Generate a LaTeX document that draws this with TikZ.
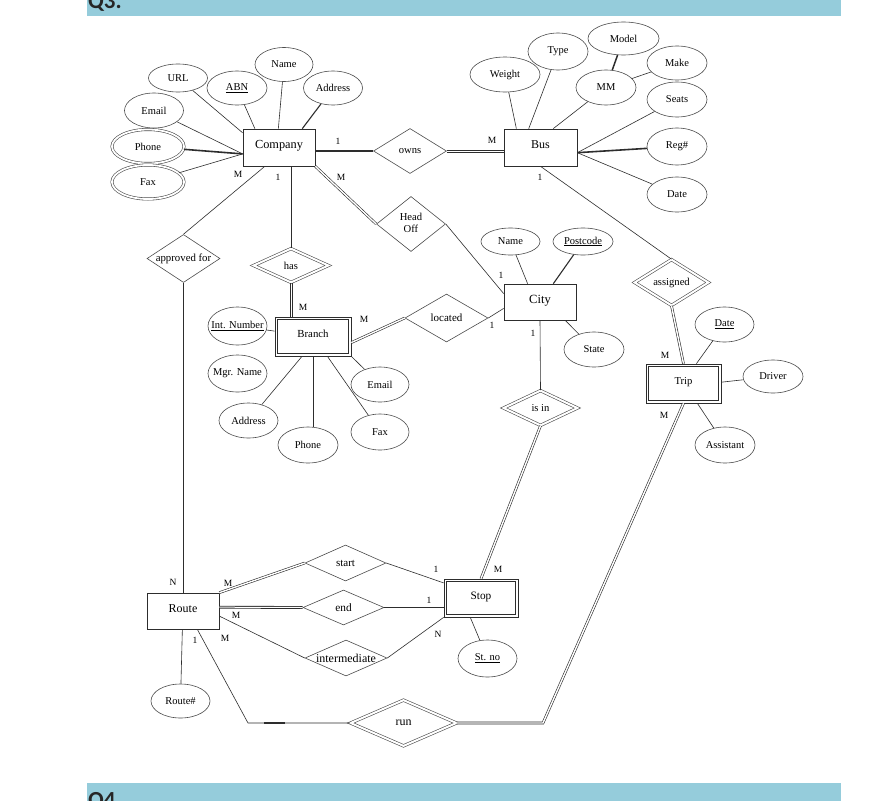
\documentclass[tikz,border=0pt]{standalone}
\usepackage{fontspec}
\setmainfont{Liberation Serif}
\newfontfamily\qfont{Carlito}
\usetikzlibrary{shapes.geometric}
\definecolor{qbar}{RGB}{149,204,219}
\definecolor{ln}{RGB}{45,45,45}
\newcommand\zb[1]{\makebox[0pt]{#1}}
\newcommand\fs[1]{\fontsize{#1}{#1}\selectfont}
\begin{document}
\begin{tikzpicture}[x=1pt,y=-1pt,
  sz/.style 2 args={minimum width=#1pt,minimum height=#2pt},
  ent/.style={draw=ln,line width=0.7pt,rectangle,inner sep=0pt,text height=6pt,text depth=4pt},
  went/.style={ent},
  attr/.style={draw=black!70,line width=0.6pt,ellipse,inner sep=0pt,font=\fs{10.5}},
  mattr/.style={attr,double,double distance=1.8pt},
  rel/.style={draw=black!70,line width=0.6pt,diamond,inner sep=0pt,font=\fs{10.6}},
  wrel/.style={rel,double,double distance=2pt},
  lab/.style={inner sep=0pt,font=\fs{9.5}},
  conn/.style={draw=ln,line width=0.6pt},
  thk/.style={draw=ln,line width=1.6pt},
  dbl/.style={draw=ln,line width=0.6pt,double,double distance=1.4pt},
]
\useasboundingbox (0,0) rectangle (874,800);
\clip (0,0) rectangle (874,800);
\fill[white] (0,0) rectangle (874,800);
% header bars
\fill[qbar] (87,-5) rectangle (841,16);
\fill[qbar] (87,783) rectangle (841,805);
\node[anchor=base west,inner sep=0pt,font=\qfont\bfseries\fs{23},text=black!85] (q3) at (88,8.5) {Q3.};
\node[anchor=base west,inner sep=0pt,font=\qfont\bfseries\fs{23},text=black!85] (q4) at (88,807) {Q4};

% entities
\node[ent,sz={72}{37},font=\fs{12.3}] (company) at (279,147.5) {Company};
\node[ent,sz={73}{37},font=\fs{12}] (bus) at (540.5,147.5) {Bus};
\node[ent,sz={72}{36},font=\fs{12.5}] (city) at (540,302) {City};
\node[went,sz={76}{39},font=\fs{10.8}] (branch) at (313,336.5) {Branch};
\node[went,sz={75}{39},font=\fs{10.6}] (trip) at (683.5,383.5) {Trip};
\node[went,sz={74}{38},font=\fs{11.3}] (stop) at (481,598) {Stop};
\node[ent,sz={72}{36},font=\fs{12}] (route) at (183,611) {Route};
% inner borders of the weak entities
\draw[conn] ([shift={(2.8,2.8)}]branch.north west) rectangle ([shift={(-2.8,-2.8)}]branch.south east);
\draw[conn] ([shift={(2.8,2.8)}]trip.north west) rectangle ([shift={(-2.8,-2.8)}]trip.south east);
\draw[conn] ([shift={(2.8,2.8)}]stop.north west) rectangle ([shift={(-2.8,-2.8)}]stop.south east);

% company attributes
\node[attr,sz={59}{28}] (url) at (178,78) {\zb{URL}};
\node[attr,sz={60}{34}] (abn) at (237,88) {\zb{\underline{ABN}}};
\node[attr,sz={58}{34}] (cname) at (284,64.5) {\zb{Name}};
\node[attr,sz={59}{34}] (caddr) at (333,88) {\zb{Address}};
\node[attr,sz={59}{35}] (cemail) at (154,110.5) {\zb{Email}};
\node[mattr,sz={72}{34}] (cphone) at (148,146.5) {\zb{Phone}};
\node[mattr,sz={72}{34}] (cfax) at (148,182) {\zb{Fax}};

% bus attributes
\node[attr,sz={70}{35}] (weight) at (505,74.5) {\zb{Weight}};
\node[attr,sz={60}{37}] (type) at (558,51.5) {\zb{Type}};
\node[attr,sz={71}{33}] (model) at (623.5,38.5) {\zb{Model}};
\node[attr,sz={60}{35}] (mm) at (606,87.5) {\zb{MM}};
\node[attr,sz={60}{34}] (make) at (677,63) {\zb{Make}};
\node[attr,sz={60}{35}] (seats) at (677,99.5) {\zb{Seats}};
\node[attr,sz={60}{37}] (reg) at (677,146.5) {\zb{Reg\#}};
\node[attr,sz={60}{35}] (bdate) at (677,194.5) {\zb{Date}};

% city attributes
\node[attr,sz={59}{27}] (cityname) at (510.5,241.5) {\zb{Name}};
\node[attr,sz={60}{27}] (postcode) at (583,241.5) {\zb{\underline{Postcode}}};
\node[attr,sz={60}{35}] (state) at (594,349.5) {\zb{State}};

% branch attributes
\node[attr,sz={59}{38}] (intnum) at (237.5,326) {\zb{\underline{Int. Number}}};
\node[attr,sz={59}{37}] (mgr) at (237.5,373.5) {\zb{Mgr. Name}};
\node[attr,sz={59}{35}] (baddr) at (248.5,420.5) {\zb{Address}};
\node[attr,sz={60}{36}] (bphone) at (308,445) {\zb{Phone}};
\node[attr,sz={58}{36}] (bfax) at (380,432) {\zb{Fax}};
\node[attr,sz={58}{35}] (bemail) at (380,384.5) {\zb{Email}};

% trip attributes
\node[attr,sz={59}{35}] (tdate) at (724.5,324.5) {\zb{\underline{Date}}};
\node[attr,sz={60}{33}] (driver) at (773,376.5) {\zb{Driver}};
\node[attr,sz={60}{36}] (assistant) at (725,445) {\zb{Assistant}};

% stop / route attributes
\node[attr,sz={59}{37}] (stno) at (487.5,658.5) {\zb{\underline{St. no}}};
\node[attr,sz={59}{34}] (routeno) at (180.5,701) {\zb{Route\#}};

% relationships
\node[rel,sz={73}{45}] (owns) at (410,151) {\zb{owns}};
\node[rel,sz={69}{55}] (headoff) at (411,224) {\zb{\fontsize{10.6}{11.7}\selectfont\begin{tabular}{@{}c@{}}Head\\Off\end{tabular}}};
\node[rel,sz={73}{48},font=\fs{10.8}] (approved) at (183.5,258.5) {\zb{approved for}};
\node[wrel,sz={75}{34}] (has) at (291,265.5) {\zb{has}};
\node[rel,sz={83}{48},font=\fs{11}] (located) at (446.5,318) {\zb{located}};
\node[wrel,sz={74}{35}] (isin) at (540.5,408) {\zb{is in}};
\node[wrel,sz={74}{46}] (assigned) at (671.5,282.5) {\zb{assigned}};
\node[rel,sz={81}{36},font=\fs{11}] (start) at (345.5,563) {\zb{start}};
\node[rel,sz={81}{35},font=\fs{11.3}] (end) at (343.5,607.5) {\zb{end}};
\node[rel,sz={82}{36},font=\fs{12}] (inter) at (346,658) {\zb{intermediate}};
\node[wrel,sz={106}{46},font=\fs{12}] (run) at (403.5,723) {\zb{run}};

% company attribute lines
\draw[conn] (url) -- (company.158);
\draw[conn] (abn) -- (company.142);
\draw[conn] (cname) -- (company.92);
\draw[conn,line width=1.1pt] (caddr) -- (company.39);
\draw[conn] (cemail) -- (company.190);
\draw[thk] (cphone) -- (company.190);
\draw[conn] (cfax) -- (company.190);

% bus attribute lines
\draw[conn] (weight) -- (bus.142);
\draw[conn] (type) -- (bus.122);
\draw[conn] (mm) -- (bus.56);
\draw[thk,line width=1.5pt] (mm) -- (model);
\draw[conn] (make) -- (mm);
\draw[conn] (seats) -- (bus.-8);
\draw[thk] (reg) -- (bus.-8);
\draw[conn] (bdate) -- (bus.-8);

% city attribute lines
\draw[conn] (cityname) -- (city.124);
\draw[conn,line width=1.1pt] (postcode) -- (city.54);
\draw[conn] (state) -- (city.-36);

% branch attribute lines
\draw[conn] (intnum) -- (branch.172);
\draw[conn] (baddr) -- (branch.-119);
\draw[conn] (branch.south) -- (branch.south |- bphone.north);
\draw[conn] (bfax) -- (branch.-54);
\draw[conn] (bemail) -- (branch.south east);

% trip attribute lines
\draw[conn] (tdate) -- (trip.57);
\draw[conn] (driver) -- (trip.2);
\draw[conn] (assistant) -- (trip.-55);

% stop / route attribute lines
\draw[conn] (stno) -- (stop.-119);
\draw[conn] (route.-92) -- (routeno);

% relationship lines
\draw[thk] (company.east |- owns.west) -- (owns.west);
\draw[conn] ([yshift=1.1pt]owns.east) -- ([yshift=1.1pt]bus.west |- owns.east);
\draw[conn] ([yshift=-1.1pt]owns.east) -- ([yshift=-1.1pt]bus.west |- owns.east);
\draw[dbl] (company.south east) -- (headoff.west);
\draw[conn] (headoff.east) -- (city.167);
\draw[conn] (has.north |- company.south) -- (has.north);
\draw[conn] ([xshift=-1.1pt]has.south) -- ([xshift=-1.1pt]has.south |- branch.north);
\draw[conn] ([xshift=1.1pt]has.south) -- ([xshift=1.1pt]has.south |- branch.north);
\draw[conn] (company.-127) -- (approved.north);
\draw[conn] (approved.south) -- (approved.south |- route.north);
\draw[dbl] (branch.-9) -- (located.west);
\draw[conn] (located.east) -- (city.190);
\draw[conn] (city.south) -- (isin.north);
\draw[dbl] (isin.south) -- (stop.north);
\draw[conn] (bus.south) -- (assigned.north);
\draw[dbl] (assigned.south) -- (trip.north);
\coordinate (tripcorner) at (543,723);
\draw[dbl] (trip.south) -- (tripcorner) -- (run.east);
\draw[dbl] (route.north east) -- (start.west);
\draw[conn] (start.east) -- (stop.158);
\draw[dbl,line width=0.9pt,double distance=1pt] (route.6) -- (end.west);
\draw[conn] (end.east) -- (stop.west |- end.east);
\draw[conn] (route.-8) -- (inter.west);
\draw[conn] (inter.east) -- (stop.south west);
\coordinate (runcorner) at (248,723);
\draw[conn] (route.-52) -- (runcorner) -- (run.west);
\coordinate (tk1) at (264,723);
\coordinate (tk2) at (285,723);
\draw[thk,line width=2pt] (tk1) -- (tk2);

% cardinality labels
\node[lab] (l1) at (338,141) {1};
\node[lab] (l2) at (492,140) {M};
\node[lab] (l3) at (341,177) {M};
\node[lab] (l4) at (501,275) {1};
\node[lab] (l5) at (278,177) {1};
\node[lab] (l6) at (303,307) {M};
\node[lab] (l7) at (238,174) {M};
\node[lab] (l8) at (173,582) {N};
\node[lab] (l9) at (364,319) {M};
\node[lab] (l10) at (492,325) {1};
\node[lab] (l11) at (533,333) {1};
\node[lab] (l12) at (498,569) {M};
\node[lab] (l13) at (540,177) {1};
\node[lab] (l14) at (665,355) {M};
\node[lab] (l15) at (664,415) {M};
\node[lab] (l16) at (228,583) {M};
\node[lab] (l17) at (436,569) {1};
\node[lab] (l18) at (236,615) {M};
\node[lab] (l19) at (429,600) {1};
\node[lab] (l20) at (225,638) {M};
\node[lab] (l21) at (438,634) {N};
\node[lab] (l22) at (195,640) {1};
\end{tikzpicture}
\end{document}
